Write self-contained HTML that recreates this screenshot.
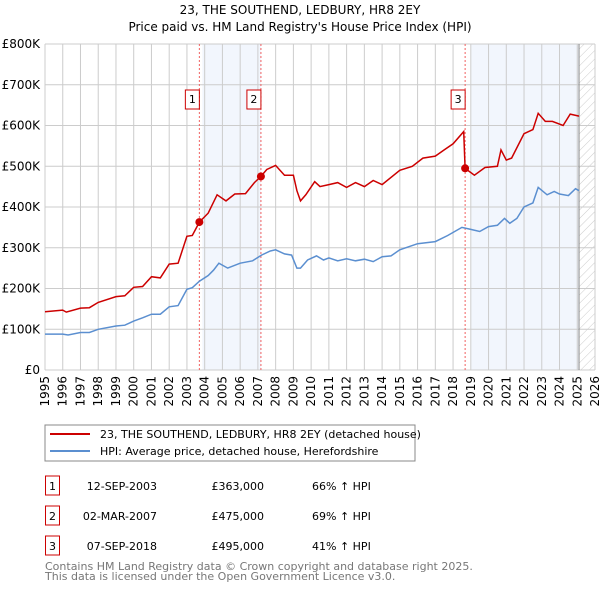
<!DOCTYPE html>
<html><head><meta charset="utf-8"><style>
body{margin:0;background:#fff;font-family:"DejaVu Sans","Liberation Sans",sans-serif;}
svg{display:block}
</style></head><body>
<svg id="c" width="600" height="590" xmlns="http://www.w3.org/2000/svg" font-family="DejaVu Sans, Liberation Sans, sans-serif">
<defs><pattern id="hatch" width="6" height="6" patternUnits="userSpaceOnUse" patternTransform="rotate(45)"><line x1="0" y1="0" x2="0" y2="6" stroke="#ccc" stroke-width="1"/></pattern></defs>
<text x="300" y="14" text-anchor="middle" font-size="12">23, THE SOUTHEND, LEDBURY, HR8 2EY</text>
<text x="300" y="31" text-anchor="middle" font-size="12">Price paid vs. HM Land Registry's House Price Index (HPI)</text>
<g id="plot"></g>
<rect x="45" y="425" width="370" height="36" fill="#fff" stroke="#888"/>
<line x1="50" y1="434" x2="90" y2="434" stroke="#cc0000" stroke-width="2"/>
<text x="100" y="438" font-size="11">23, THE SOUTHEND, LEDBURY, HR8 2EY (detached house)</text>
<line x1="50" y1="451" x2="90" y2="451" stroke="#5b8fd0" stroke-width="2"/>
<text x="100" y="455" font-size="11">HPI: Average price, detached house, Herefordshire</text>
<g id="tbl" font-size="11"></g>
<text x="45" y="570" font-size="11" fill="#777">Contains HM Land Registry data © Crown copyright and database right 2025.</text>
<text x="45" y="580" font-size="11" fill="#777">This data is licensed under the Open Government Licence v3.0.</text>
</svg>
<script>
const hpiYears=[1995,1996,1996.3,1997,1997.5,1998,1999,1999.5,2000,2000.5,2001,2001.5,2002,2002.5,2003,2003.3,2003.7,2004.2,2004.5,2004.8,2005.3,2006,2006.7,2007.2,2007.7,2008,2008.5,2008.9,2009.2,2009.4,2009.8,2010.3,2010.7,2011,2011.5,2012,2012.5,2013,2013.5,2014,2014.5,2015,2016,2017,2017.7,2018.5,2019,2019.5,2020,2020.5,2020.9,2021.2,2021.6,2022,2022.5,2022.8,2023.3,2023.7,2024,2024.5,2024.9,2025.1];
const hpiValues=[88,88,86,92,92,100,108,110,120,128,137,137,155,158,198,202,218,232,245,262,250,262,268,282,292,295,285,282,250,250,270,280,270,275,268,273,268,272,266,278,280,295,310,315,330,350,345,340,352,355,372,360,372,400,410,448,430,438,432,428,445,440];
const priceYears=[1995,1996,1996.2,1997,1997.5,1998,1999,1999.5,2000,2000.5,2001,2001.5,2002,2002.5,2003,2003.3,2003.7,2004.2,2004.7,2005.2,2005.7,2006.3,2006.8,2007.17,2007.5,2008,2008.5,2009,2009.2,2009.4,2009.7,2010.2,2010.5,2011,2011.5,2012,2012.5,2013,2013.5,2014,2015,2015.7,2016.3,2017,2017.5,2018,2018.6,2018.68,2019.2,2019.8,2020.5,2020.7,2021,2021.3,2022,2022.5,2022.8,2023.2,2023.6,2024.2,2024.6,2025.1];
const priceValues=[143,147,142,152,153,166,180,182,203,205,229,226,260,262,328,330,363,385,430,415,432,433,460,475,492,502,478,478,440,415,430,462,450,455,460,448,460,450,465,455,490,500,520,525,540,555,585,495,478,497,500,540,515,520,580,590,630,610,610,600,628,623];
const saleLabels=["1","2","3"];
const saleYears=[2003.7,2007.17,2018.68];
const saleValues=[363,475,495];
const saleDates=["12-SEP-2003","02-MAR-2007","07-SEP-2018"];
const salePrices=["£363,000","£475,000","£495,000"];
const saleHpi=["66% ↑ HPI","69% ↑ HPI","41% ↑ HPI"];
const yTicks=[0,100,200,300,400,500,600,700,800];
const yTickLabels=["£0","£100K","£200K","£300K","£400K","£500K","£600K","£700K","£800K"];
const xTicks=[1995,1996,1997,1998,1999,2000,2001,2002,2003,2004,2005,2006,2007,2008,2009,2010,2011,2012,2013,2014,2015,2016,2017,2018,2019,2020,2021,2022,2023,2024,2025,2026];

const NS="http://www.w3.org/2000/svg";
const L=45,R=595,T=44,B=370;
const xs=y=>L+(y-1995)/(2026-1995)*(R-L);
const ys=v=>B-v/800*(B-T);
const g=document.getElementById('plot');
function mk(t,a,p){const e=document.createElementNS(NS,t);for(const k in a)e.setAttribute(k,a[k]);(p||g).appendChild(e);return e;}
let e;
e=mk('rect',{x:xs(2003.7)+3,y:T,width:xs(2007.17)-xs(2003.7)-3,height:B-T,fill:'#eef3fc',opacity:0.75});


e=mk('rect',{x:xs(2018.68)+6,y:T,width:xs(2025.1)-xs(2018.68)-6,height:B-T,fill:'#eef3fc',opacity:0.75});


e=mk('rect',{x:xs(2025.1),y:T,width:R-xs(2025.1),height:B-T,fill:'url(#hatch)'});


yTicks.forEach((v,i)=>{
 e=mk('line',{x1:L,x2:R,y1:ys(v),y2:ys(v),stroke:'#ccc'});
 
 
 e=mk('text',{x:L-5,y:ys(v)+4,'text-anchor':'end','font-size':12});
 e.textContent=yTickLabels[i];
 
 
});
xTicks.forEach(y=>{
 e=mk('line',{x1:xs(y),x2:xs(y),y1:T,y2:B,stroke:'#ccc'});
 
 
 e=mk('text',{x:0,y:0,'text-anchor':'end','font-size':12,transform:`translate(${xs(y)+4},${B+6}) rotate(-90)`});
 e.textContent=y;
 
 
});
e=mk('line',{x1:xs(2025.1),x2:xs(2025.1),y1:T,y2:B,stroke:'#888'});


saleYears.forEach((y,i)=>{
 e=mk('line',{x1:xs(y),x2:xs(y),y1:T,y2:B,stroke:'#f06060','stroke-dasharray':'2,2'});
 
 
});
const pts=(xa,va)=>xa.map((x,i)=>xs(x).toFixed(1)+','+ys(va[i]).toFixed(1)).join(' ');
e=mk('polyline',{points:pts(hpiYears,hpiValues),fill:'none',stroke:'#5b8fd0','stroke-width':1.5});


e=mk('polyline',{points:pts(priceYears,priceValues),fill:'none',stroke:'#cc0000','stroke-width':1.5});


saleYears.forEach((y,i)=>{
 e=mk('circle',{cx:xs(y),cy:ys(saleValues[i]),r:4,fill:'#cc0000'});
 
 
 const bx=xs(y)-10;
 e=mk('rect',{x:bx-4,y:90,width:14,height:19,fill:'#fff',stroke:'#cc0000'});
 
 
 e=mk('text',{x:bx+3,y:103,'text-anchor':'middle','font-size':11});
 e.textContent=saleLabels[i];
 
 
});
const tb=document.getElementById('tbl');
saleLabels.forEach((s,i)=>{
 const yy=476+i*30;
 e=mk('rect',{x:45.5,y:yy,width:14,height:19,fill:'#fff',stroke:'#cc0000'},tb);
 
 
 e=mk('text',{x:52.5,y:yy+14,'text-anchor':'middle'},tb);e.textContent=s;
 
 
 e=mk('text',{x:157,y:yy+14,'text-anchor':'end'},tb);e.textContent=saleDates[i];
 
 
 e=mk('text',{x:264,y:yy+14,'text-anchor':'end'},tb);e.textContent=salePrices[i];
 
 
 e=mk('text',{x:312,y:yy+14},tb);e.textContent=saleHpi[i];
 
 
});
</script>
</body></html>
